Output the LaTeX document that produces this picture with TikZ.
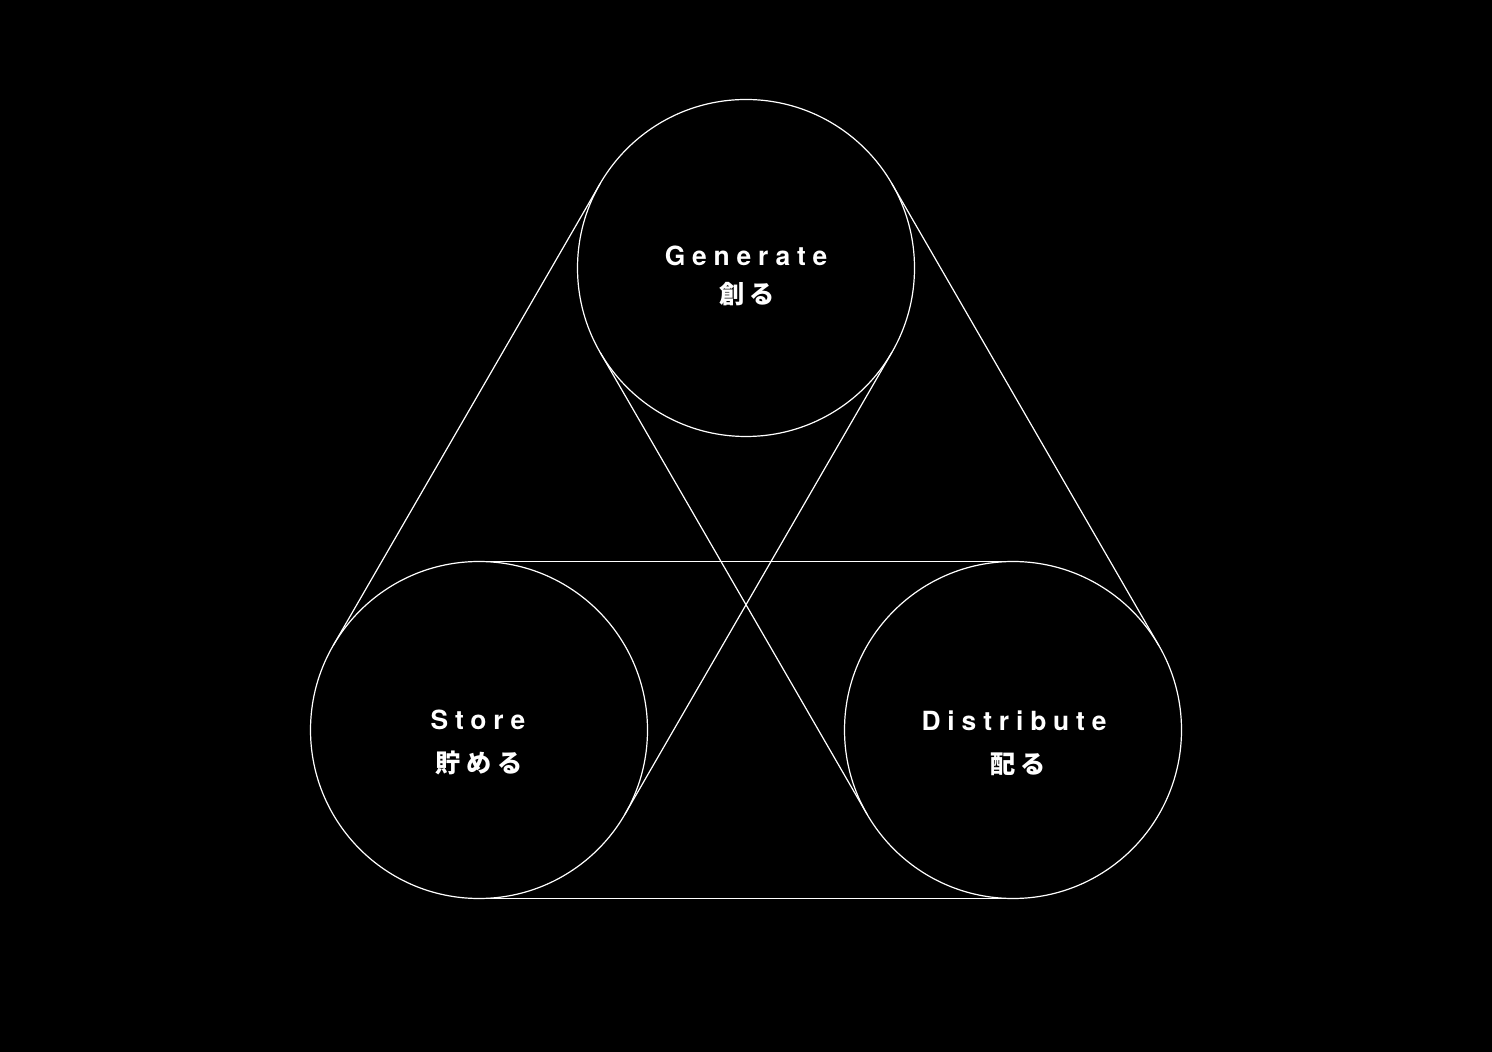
\documentclass[tikz,border=0pt]{standalone}
\usepackage{fontspec}
\newfontfamily\heros[LetterSpace=26]{TeX Gyre Heros}
\newfontfamily\cjk[LetterSpace=22]{Noto Sans CJK JP}

\tikzset{
  ring/.style={circle, draw=white, line width=0.6pt, minimum size=168.5pt, inner sep=0pt, outer sep=0pt},
  belt/.style={draw=white, line width=0.6pt},
  entext/.style={text=white, font=\heros\bfseries\fontsize{13.2}{15}\selectfont, anchor=base, inner sep=0pt},
  jptext/.style={text=white, font=\cjk\bfseries\fontsize{12.6}{15}\selectfont, anchor=base, inner sep=0pt},
}

\begin{document}
\begin{tikzpicture}[x=0.5pt, y=-0.5pt]
	\fill[black] (0,0) rectangle (1492,1052);
	\useasboundingbox (0,0) rectangle (1492,1052);

	% circles
	\node[ring](gen) at (746,268) {};
	\node[ring](sto) at (479,730) {};
	\node[ring](dis) at (1013,730) {};

	% belts between the circles
	\draw[belt] (gen.150) -- (sto.150);
	\draw[belt] (gen.330) -- (sto.330);
	\draw[belt] (gen.30) -- (dis.30);
	\draw[belt] (gen.210) -- (dis.210);
	\draw[belt] (sto.90) -- (dis.90);
	\draw[belt] (sto.270) -- (dis.270);

	% labels
	\node[entext](genen) at (746,266) {Generate};
	\node[jptext](genjp) at (747,304) {創る};
	\node[entext](stoen) at (478,729) {Store};
	\node[jptext](stojp) at (479,772) {貯める};
	\node[entext](disen) at (1014,730) {Distribute};
	\node[jptext](disjp) at (1018,773) {配る};
\end{tikzpicture}
\end{document}
